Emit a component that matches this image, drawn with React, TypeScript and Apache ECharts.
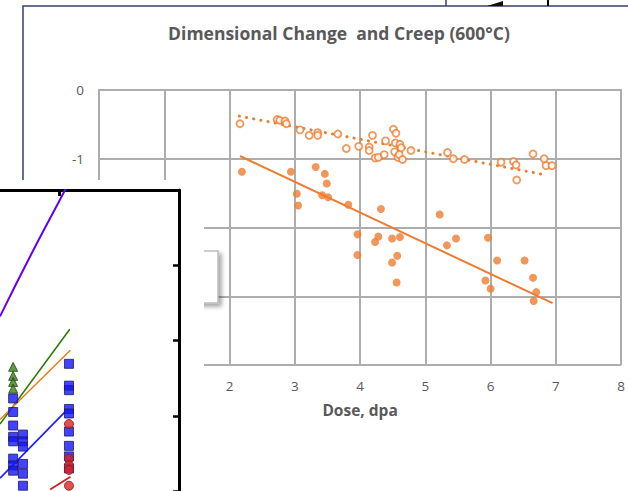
import React, { useEffect, useRef } from "react";
import * as echarts from "echarts";

// ---- main chart data (dose in dpa, change in %) ----
const xTicks = [0, 1, 2, 3, 4, 5, 6, 7, 8];
const yTicks = [-4, -3, -2, -1, 0];

const openDose = [2.16, 2.73, 2.77, 2.85, 2.87, 3.08, 3.22, 3.35, 3.35, 3.66, 3.79, 3.98, 4.14, 4.14, 4.19, 4.23, 4.28, 4.37, 4.39, 4.51, 4.55, 4.54, 4.53, 4.58, 4.61, 4.63, 4.6, 4.65, 4.78, 5.34, 5.43, 5.6, 6.16, 6.35, 6.39, 6.4, 6.65, 6.82, 6.85, 6.94];
const openChange = [-0.49, -0.43, -0.44, -0.45, -0.49, -0.58, -0.66, -0.62, -0.66, -0.64, -0.85, -0.82, -0.83, -0.88, -0.66, -0.99, -0.98, -0.94, -0.74, -0.57, -0.63, -0.77, -0.9, -0.98, -0.79, -0.84, -0.94, -1.01, -0.88, -0.91, -1.0, -1.01, -1.05, -1.04, -1.09, -1.31, -0.93, -1.0, -1.1, -1.1];

const filledDose = [2.19, 2.94, 3.32, 3.46, 3.49, 3.03, 3.05, 3.42, 3.51, 3.82, 4.32, 3.96, 3.96, 4.23, 4.28, 4.49, 4.61, 4.49, 4.57, 4.56, 5.22, 5.33, 5.47, 5.96, 6.1, 5.92, 6.0, 6.52, 6.65, 6.7, 6.66];
const filledChange = [-1.19, -1.19, -1.12, -1.22, -1.36, -1.51, -1.68, -1.53, -1.56, -1.67, -1.73, -2.1, -2.4, -2.21, -2.13, -2.16, -2.14, -2.51, -2.41, -2.8, -1.81, -2.26, -2.16, -2.15, -2.48, -2.77, -2.89, -2.48, -2.73, -2.94, -3.07];

const openTrendDose = [2.15, 6.87];
const openTrendChange = [-0.38, -1.24];
const filledTrendDose = [2.16, 6.95];
const filledTrendChange = [-0.96, -3.1];

// ---- overlapping inset chart fragment data ----
const insetXMax = 3;
const insetYMax = 4;
const insetXTick = [1];
const purpleX = [0, 0.5, 1.09, 1.15];
const purpleY = [2.32, 3.11, 4.0, 4.1];
const greenX = [0, 1.17];
const greenY = [0.89, 2.15];
const orangeX = [0, 1.18];
const orangeY = [0.95, 1.87];
const blueLineX = [0, 1.09];
const blueLineY = [0.17, 1.05];
const redLineX = [0.84, 1.18];
const redLineY = [0.02, 0.19];

const triX = [0.22, 0.22, 0.22, 0.22];
const triY = [1.65, 1.53, 1.45, 1.36];
const sqX = [0.22, 0.22, 0.22, 0.22, 0.22, 0.22, 0.22, 0.22, 0.385, 0.385, 0.385, 0.385, 0.385, 0.385, 1.156, 1.156, 1.156, 1.156, 1.156, 1.156, 1.156, 1.156, 1.156];
const sqY = [1.23, 1.05, 0.87, 0.72, 0.66, 0.43, 0.34, 0.27, 0.75, 0.66, 0.59, 0.36, 0.23, 0.07, 1.69, 1.4, 1.34, 1.09, 1.03, 0.79, 0.6, 0.46, 0.3];
const redX = [1.156, 1.156, 1.156, 1.156, 1.156];
const redY = [0.89, 0.43, 0.34, 0.28, 0.07];

const zip = (a: number[], b: number[]) => a.map((v, i) => [v, b[i]]);

const ORANGE = "#ED7D31";
const GRID = "#ADADAD";
const TEXT = "#595959";
const NAVY = "#34416b";
const FONT = "Open Sans";

export default function App() {
  const ref = useRef<HTMLDivElement>(null);
  useEffect(() => {
    if (!ref.current) return;
    const chart = echarts.init(ref.current, undefined, { renderer: "svg" });
    chart.setOption({
      animation: false,
      backgroundColor: "#ffffff",
      title: {
        text: "Dimensional Change  and Creep (600°C)",
        left: 334,
        top: 19,
        textAlign: "center",
        textStyle: { fontFamily: FONT, fontSize: 17.5, fontWeight: "bold", color: TEXT },
      },
      grid: [
        { left: 99, top: 90, width: 524, height: 275 },
        { left: 0, top: 190, width: 179, height: 302 },
      ],
      xAxis: [
        {
          gridIndex: 0,
          type: "value",
          min: xTicks[0],
          max: xTicks[xTicks.length - 1],
          interval: 1,
          name: "Dose, dpa",
          nameLocation: "middle",
          nameGap: 37,
          nameTextStyle: { fontFamily: FONT, fontSize: 15.5, fontWeight: "bold", color: TEXT },
          axisLine: { show: true, lineStyle: { color: GRID, width: 2 } },
          axisTick: { show: false },
          axisLabel: { fontFamily: FONT, fontSize: 13.5, color: TEXT, margin: 14 },
          splitLine: { show: true, lineStyle: { color: GRID, width: 2 } },
        },
        {
          gridIndex: 1,
          type: "value",
          min: 0,
          max: insetXMax,
          position: "top",
          z: 20,
          axisLine: { show: true, onZero: false, lineStyle: { color: "#000", width: 3 } },
          axisTick: { show: true, inside: true, length: 6, customValues: insetXTick, lineStyle: { color: "#000", width: 3 } },
          axisLabel: { show: false },
          splitLine: { show: false },
        },
      ],
      yAxis: [
        {
          gridIndex: 0,
          type: "value",
          min: yTicks[0],
          max: yTicks[yTicks.length - 1],
          interval: 1,
          axisLine: { show: true, lineStyle: { color: GRID, width: 2 } },
          axisTick: { show: false },
          axisLabel: { fontFamily: FONT, fontSize: 13.5, color: TEXT, margin: 15 },
          splitLine: { show: true, lineStyle: { color: GRID, width: 2 } },
        },
        {
          gridIndex: 1,
          type: "value",
          min: 0,
          max: insetYMax,
          interval: 1,
          position: "right",
          z: 20,
          axisLine: { show: true, onZero: false, lineStyle: { color: "#000", width: 3 } },
          axisTick: { show: true, inside: true, length: 6, lineStyle: { color: "#000", width: 2.5 } },
          axisLabel: { show: false },
          splitLine: { show: false },
        },
      ],
      graphic: [
        {
          type: "rect",
          z: 1,
          shape: { x: 23, y: 6, width: 800, height: 800 },
          style: { fill: "none", stroke: NAVY, lineWidth: 1.5 },
        },
        { type: "line", z: 1, shape: { x1: 446, y1: 0, x2: 446, y2: 6 }, style: { stroke: NAVY, lineWidth: 1.5 } },
        { type: "line", z: 1, shape: { x1: 548, y1: 0, x2: 548, y2: 6 }, style: { stroke: "#000", lineWidth: 2 } },
        { type: "polygon", z: 1, shape: { points: [[487, 6], [503, 1], [503, 6]] }, style: { fill: "#111" } },
        {
          type: "rect",
          z: 9,
          shape: { x: 180, y: 251, width: 38, height: 52 },
          style: {
            fill: "#ffffff",
            stroke: "#bdbdbd",
            lineWidth: 1.5,
            shadowBlur: 4,
            shadowColor: "rgba(0,0,0,0.35)",
            shadowOffsetX: 3,
            shadowOffsetY: 3,
          },
        },
        {
          type: "rect",
          z: 10,
          shape: { x: 0, y: 180, width: 204, height: 311 },
          style: { fill: "#ffffff" },
        },
      ],
      series: [
        {
          type: "line",
          xAxisIndex: 0,
          yAxisIndex: 0,
          data: zip(openTrendDose, openTrendChange),
          showSymbol: false,
          symbol: "none",
          lineStyle: { color: ORANGE, width: 3, type: [0.1, 7.2], cap: "round" },
          z: 3,
        },
        {
          type: "line",
          xAxisIndex: 0,
          yAxisIndex: 0,
          data: zip(filledTrendDose, filledTrendChange),
          showSymbol: false,
          symbol: "none",
          lineStyle: { color: ORANGE, width: 2 },
          z: 3,
        },
        {
          type: "scatter",
          xAxisIndex: 0,
          yAxisIndex: 0,
          data: zip(openDose, openChange),
          symbol: "circle",
          symbolSize: 7,
          itemStyle: { color: "#ffffff", borderColor: ORANGE, borderWidth: 1.8 },
          z: 4,
        },
        {
          type: "scatter",
          xAxisIndex: 0,
          yAxisIndex: 0,
          data: zip(filledDose, filledChange),
          symbol: "circle",
          symbolSize: 8,
          itemStyle: { color: ORANGE },
          z: 4,
        },
        // inset fragment
        { type: "line", xAxisIndex: 1, yAxisIndex: 1, data: zip(purpleX, purpleY), symbol: "none", smooth: true, lineStyle: { color: "#5f00ff", width: 2 }, z: 21 },
        { type: "line", xAxisIndex: 1, yAxisIndex: 1, data: zip(greenX, greenY), symbol: "none", lineStyle: { color: "#2e7a08", width: 1.6 }, z: 21 },
        { type: "line", xAxisIndex: 1, yAxisIndex: 1, data: zip(orangeX, orangeY), symbol: "none", lineStyle: { color: "#e8801c", width: 1.6 }, z: 21 },
        { type: "line", xAxisIndex: 1, yAxisIndex: 1, data: zip(blueLineX, blueLineY), symbol: "none", lineStyle: { color: "#2020ff", width: 1.8 }, z: 21 },
        { type: "line", xAxisIndex: 1, yAxisIndex: 1, data: zip(redLineX, redLineY), symbol: "none", lineStyle: { color: "#cc2020", width: 1.8 }, z: 21 },
        {
          type: "scatter", xAxisIndex: 1, yAxisIndex: 1, data: zip(triX, triY), symbol: "triangle", symbolSize: 9,
          itemStyle: { color: "#3d7d1a", borderColor: "#1f4a10", borderWidth: 1 }, z: 22,
        },
        {
          type: "scatter", xAxisIndex: 1, yAxisIndex: 1, data: zip(sqX, sqY), symbol: "rect", symbolSize: 9,
          itemStyle: { color: "#1414ff", borderColor: "#1c1c60", borderWidth: 1 }, z: 22,
        },
        {
          type: "scatter", xAxisIndex: 1, yAxisIndex: 1, data: zip(redX, redY), symbol: "circle", symbolSize: 9,
          itemStyle: { color: "#dd2222", borderColor: "#7a1a1a", borderWidth: 1 }, z: 23,
        },
      ],
    });
    return () => chart.dispose();
  }, []);
  return (
    <div
      ref={ref}
      style={{ position: "fixed", left: 0, top: 0, width: 628, height: 491, background: "#fff" }}
    />
  );
}
